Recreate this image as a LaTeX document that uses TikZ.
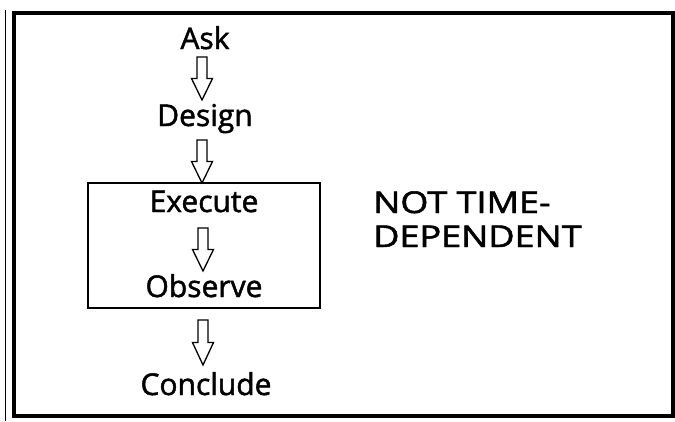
\documentclass[tikz,border=0pt]{standalone}
\usepackage{fontspec}
\setmainfont{Open Sans}
\newfontfamily\heavy{Open Sans}[FakeBold=1.6]
\usetikzlibrary{calc}
\tikzset{
  lbl/.style={font=\heavy\fontsize{30}{30}\selectfont, inner sep=0pt, anchor=base},
  side/.style={font=\heavy\fontsize{30}{32}\selectfont, inner sep=0pt, anchor=base west, xscale=1.2},
  blk/.style={draw=black, line width=1.3pt, fill=white, line join=miter},
  frame/.style={draw=black, line width=4pt},
  stagebox/.style={draw=black, line width=2.5pt}
}
\newcommand\blockarr[2]{%
  \draw[blk] let \p1=(#1), \p2=(#2), \n1={(\y1+\y2)/2} in
    (\x1-5pt,\y1) -- (\x1+5pt,\y1) -- (\x1+5pt,\n1) -- (\x1+10.5pt,\n1)
    -- (\x2,\y2) -- (\x1-10.5pt,\n1) -- (\x1-5pt,\n1) -- cycle;}
\begin{document}
\begin{tikzpicture}[x=1pt,y=-1pt]
\useasboundingbox (0,0) rectangle (675,421);
\fill[white] (0,0) rectangle (675,421);
% outer frame
\draw[frame] (14,12.5) rectangle (673,415.5);
\draw[line width=1pt] (5.5,10) -- (5.5,421);
% inner box
\draw[stagebox] (88,183) rectangle (320,308);
% labels
\node[lbl] (ask) at (205,49) {Ask};
\node[lbl] (design) at (205,126) {Design};
\node[lbl] (execute) at (204,212) {Execute};
\node[lbl] (observe) at (204,297) {Observe};
\node[lbl] (conclude) at (206,395) {Conclude};
\node[side] (nt1) at (373,213) {NOT TIME-};
\node[side] (nt2) at (373,247) {DEPENDENT};
% arrow ends
\coordinate (a1s) at (202,57);  \coordinate (a1e) at (202,100);
\coordinate (a2s) at (202,140); \coordinate (a2e) at (202,183);
\coordinate (a3s) at (203,228); \coordinate (a3e) at (203,271);
\coordinate (a4s) at (203,320); \coordinate (a4e) at (203,365);
\blockarr{a1s}{a1e}
\blockarr{a2s}{a2e}
\blockarr{a3s}{a3e}
\blockarr{a4s}{a4e}
\end{tikzpicture}
\end{document}
